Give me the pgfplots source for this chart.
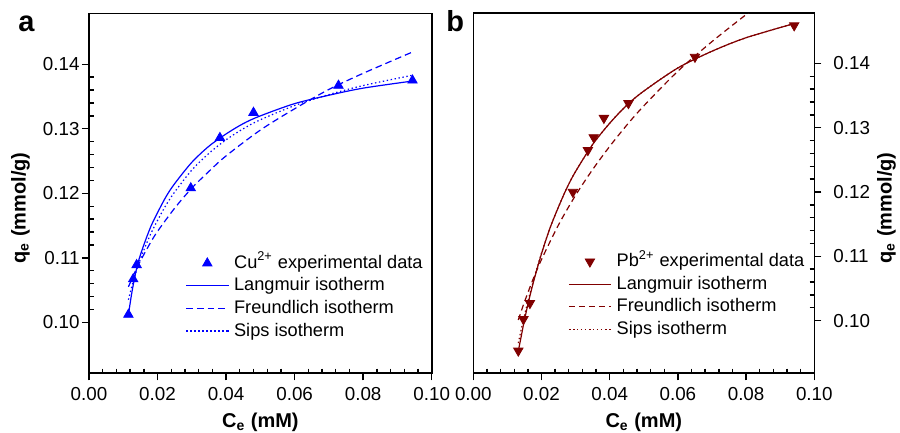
\documentclass[border=0pt]{standalone}
\usepackage{fontspec}
\setmainfont{Liberation Sans}
\usepackage{pgfplots}
\pgfplotsset{compat=1.18}
\definecolor{cublue}{RGB}{0,0,255}
\definecolor{pbred}{RGB}{128,0,0}
\pgfplotsset{
 common/.style={
  scale only axis,
  xmin=0, xmax=0.1,
  xtick={0,0.02,0.04,0.06,0.08,0.1},
  ytick={0.10,0.11,0.12,0.13,0.14},
  minor x tick num=4, minor y tick num=4,
  tick align=outside,
  major tick length=3.5pt,
  minor tick length=-2.3pt,
  axis line style={line width=0.8pt},
  tick style={black, line width=0.7pt},
  tick label style={font=\fontsize{9.4}{11}\selectfont},
  /pgf/number format/assume math mode=true,
  xticklabel style={/pgf/number format/fixed, /pgf/number format/fixed zerofill, /pgf/number format/precision=2},
  yticklabel style={/pgf/number format/fixed, /pgf/number format/fixed zerofill, /pgf/number format/precision=2},
  scaled ticks=false,
  every axis x label/.style={at={(axis description cs:0.5,-0.151)}, anchor=base, font=\fontsize{10}{12}\selectfont\bfseries},
  xlabel={C\textsubscript{e} (mM)},
  ylabel={q\textsubscript{e} (mmol/g)},
  legend style={draw=none, fill=none, inner sep=0pt, outer sep=0pt, row sep=2.3pt, column sep=2.6pt, font=\fontsize{9.1}{11}\selectfont, nodes={inner sep=0pt, text height=7pt, text depth=2pt}},
  legend cell align=left,
  legend image code/.code={\draw[mark repeat=2,mark phase=2,##1] plot coordinates {(0pt,0pt)(10.5pt,0pt)(21pt,0pt)};},
  mkleg/.style={legend image code/.code={\draw[mark repeat=2,mark phase=2,##1] plot coordinates {(0pt,0pt)(10.5pt,0pt)(21pt,0pt)};}},
 }
}
\begin{document}
\begin{tikzpicture}
\useasboundingbox (0,0) rectangle (450pt,216.5pt);
\begin{axis}[common,
  at={(44.5pt,29.85pt)}, anchor=south west,
  width=171.35pt, height=180pt,
  ymin=0.0921, ymax=0.1479,
  xtick pos=left, ytick pos=left,
  yticklabel style={xshift=2.3pt},
  every axis y label/.style={at={(axis description cs:-0.1996,0.459)}, rotate=90, anchor=center, font=\fontsize{10}{12}\selectfont\bfseries},
  legend style={at={(axis description cs:0.2822,0.3306)}, anchor=north west},
]
\addplot[only marks, mark=triangle*, mark size=2.7pt, color=cublue, mkleg] coordinates {
(0.0115,0.1012)(0.0129,0.1067)(0.0139,0.1089)(0.0297,0.1208)(0.0382,0.1286)(0.0480,0.1325)(0.0728,0.1367)(0.0944,0.1375)};
\addlegendentry{Cu\textsuperscript{2+} experimental data}
\addplot[cublue, line width=0.6pt, smooth, no markers] coordinates {
(0.0115,0.1012)(0.0125,0.1046)(0.0135,0.1074)(0.0145,0.1096)(0.016,0.1120)(0.018,0.1148)(0.020,0.1170)(0.0225,0.1195)(0.025,0.1215)(0.030,0.1248)(0.035,0.1273)(0.040,0.1292)(0.045,0.1308)(0.050,0.1320)(0.060,0.1339)(0.070,0.1352)(0.080,0.1363)(0.0944,0.1374)};
\addlegendentry{Langmuir isotherm}
\addplot[cublue, line width=0.6pt, smooth, no markers, dash pattern=on 3.3pt off 2pt] coordinates {
(0.0115,0.1055)(0.0125,0.1067)(0.014,0.1085)(0.016,0.1105)(0.018,0.1124)(0.020,0.1141)(0.025,0.1177)(0.030,0.1208)(0.035,0.1234)(0.040,0.1258)(0.050,0.1298)(0.060,0.1331)(0.070,0.1361)(0.080,0.1386)(0.0944,0.1419)};
\addlegendentry{Freundlich isotherm}
\addplot[cublue, line width=0.6pt, smooth, no markers, dash pattern=on 0.7pt off 1.3pt] coordinates {
(0.0115,0.1035)(0.0125,0.1056)(0.0135,0.1074)(0.0145,0.1091)(0.016,0.1112)(0.018,0.1137)(0.020,0.1158)(0.0225,0.1182)(0.025,0.1202)(0.030,0.1236)(0.035,0.1262)(0.040,0.1283)(0.045,0.1300)(0.050,0.1314)(0.060,0.1336)(0.070,0.1353)(0.080,0.1367)(0.0944,0.1383)};
\addlegendentry{Sips isotherm}
\end{axis}
\begin{axis}[common,
  at={(236.65pt,29.85pt)}, anchor=south west,
  width=170.5pt, height=180pt,
  ymin=0.0918, ymax=0.1478,
  xtick pos=left, ytick pos=right, yticklabel pos=right,
  yticklabel style={xshift=2.5pt},
  every axis y label/.style={at={(axis description cs:1.2117,0.459)}, rotate=90, anchor=center, font=\fontsize{10}{12}\selectfont\bfseries},
  legend style={at={(axis description cs:0.2786,0.335)}, anchor=north west},
]
\addplot[only marks, mark=triangle*, mark size=2.7pt, mark options={rotate=180}, color=pbred, mkleg] coordinates {
(0.0132,0.0953)(0.0147,0.1002)(0.0166,0.1027)(0.0292,0.1200)(0.0336,0.1265)(0.0353,0.1285)(0.0383,0.1315)(0.0455,0.1338)(0.0650,0.1410)(0.0941,0.1459)};
\addlegendentry{Pb\textsuperscript{2+} experimental data}
\addplot[pbred, line width=0.6pt, smooth, no markers] coordinates {
(0.0132,0.0953)(0.0140,0.0974)(0.0150,0.1001)(0.0165,0.1036)(0.018,0.1067)(0.020,0.1104)(0.0225,0.1144)(0.025,0.1177)(0.0275,0.1207)(0.030,0.1232)(0.035,0.1274)(0.040,0.1307)(0.045,0.1335)(0.050,0.1357)(0.060,0.1393)(0.070,0.1419)(0.080,0.1440)(0.0941,0.1462)};
\addlegendentry{Langmuir isotherm}
\addplot[pbred, line width=0.6pt, smooth, no markers, dash pattern=on 3pt off 2pt] coordinates {
(0.0132,0.1001)(0.015,0.1029)(0.0175,0.1064)(0.020,0.1095)(0.025,0.1149)(0.030,0.1195)(0.035,0.1235)(0.040,0.1271)(0.045,0.1304)(0.050,0.1334)(0.060,0.1388)(0.070,0.1434)(0.080,0.1476)(0.085,0.1496)};
\addlegendentry{Freundlich isotherm}
\addplot[pbred, line width=0.6pt, smooth, no markers, dash pattern=on 0.7pt off 1.3pt] coordinates {
(0.0132,0.0965)(0.0140,0.0985)(0.0150,0.1008)(0.0165,0.1040)(0.018,0.1069)(0.020,0.1105)(0.0225,0.1144)(0.025,0.1177)(0.0275,0.1207)(0.030,0.1232)(0.035,0.1274)(0.040,0.1307)(0.045,0.1335)(0.050,0.1357)(0.060,0.1393)(0.070,0.1419)(0.080,0.1440)(0.0941,0.1462)};
\addlegendentry{Sips isotherm}
\end{axis}
\node[anchor=base west, font=\fontsize{14.5}{16}\selectfont\bfseries, inner sep=0pt] at (9pt,200.5pt) {a};
\node[anchor=base west, font=\fontsize{14.5}{16}\selectfont\bfseries, inner sep=0pt] at (223pt,200.5pt) {b};
\end{tikzpicture}
\end{document}
